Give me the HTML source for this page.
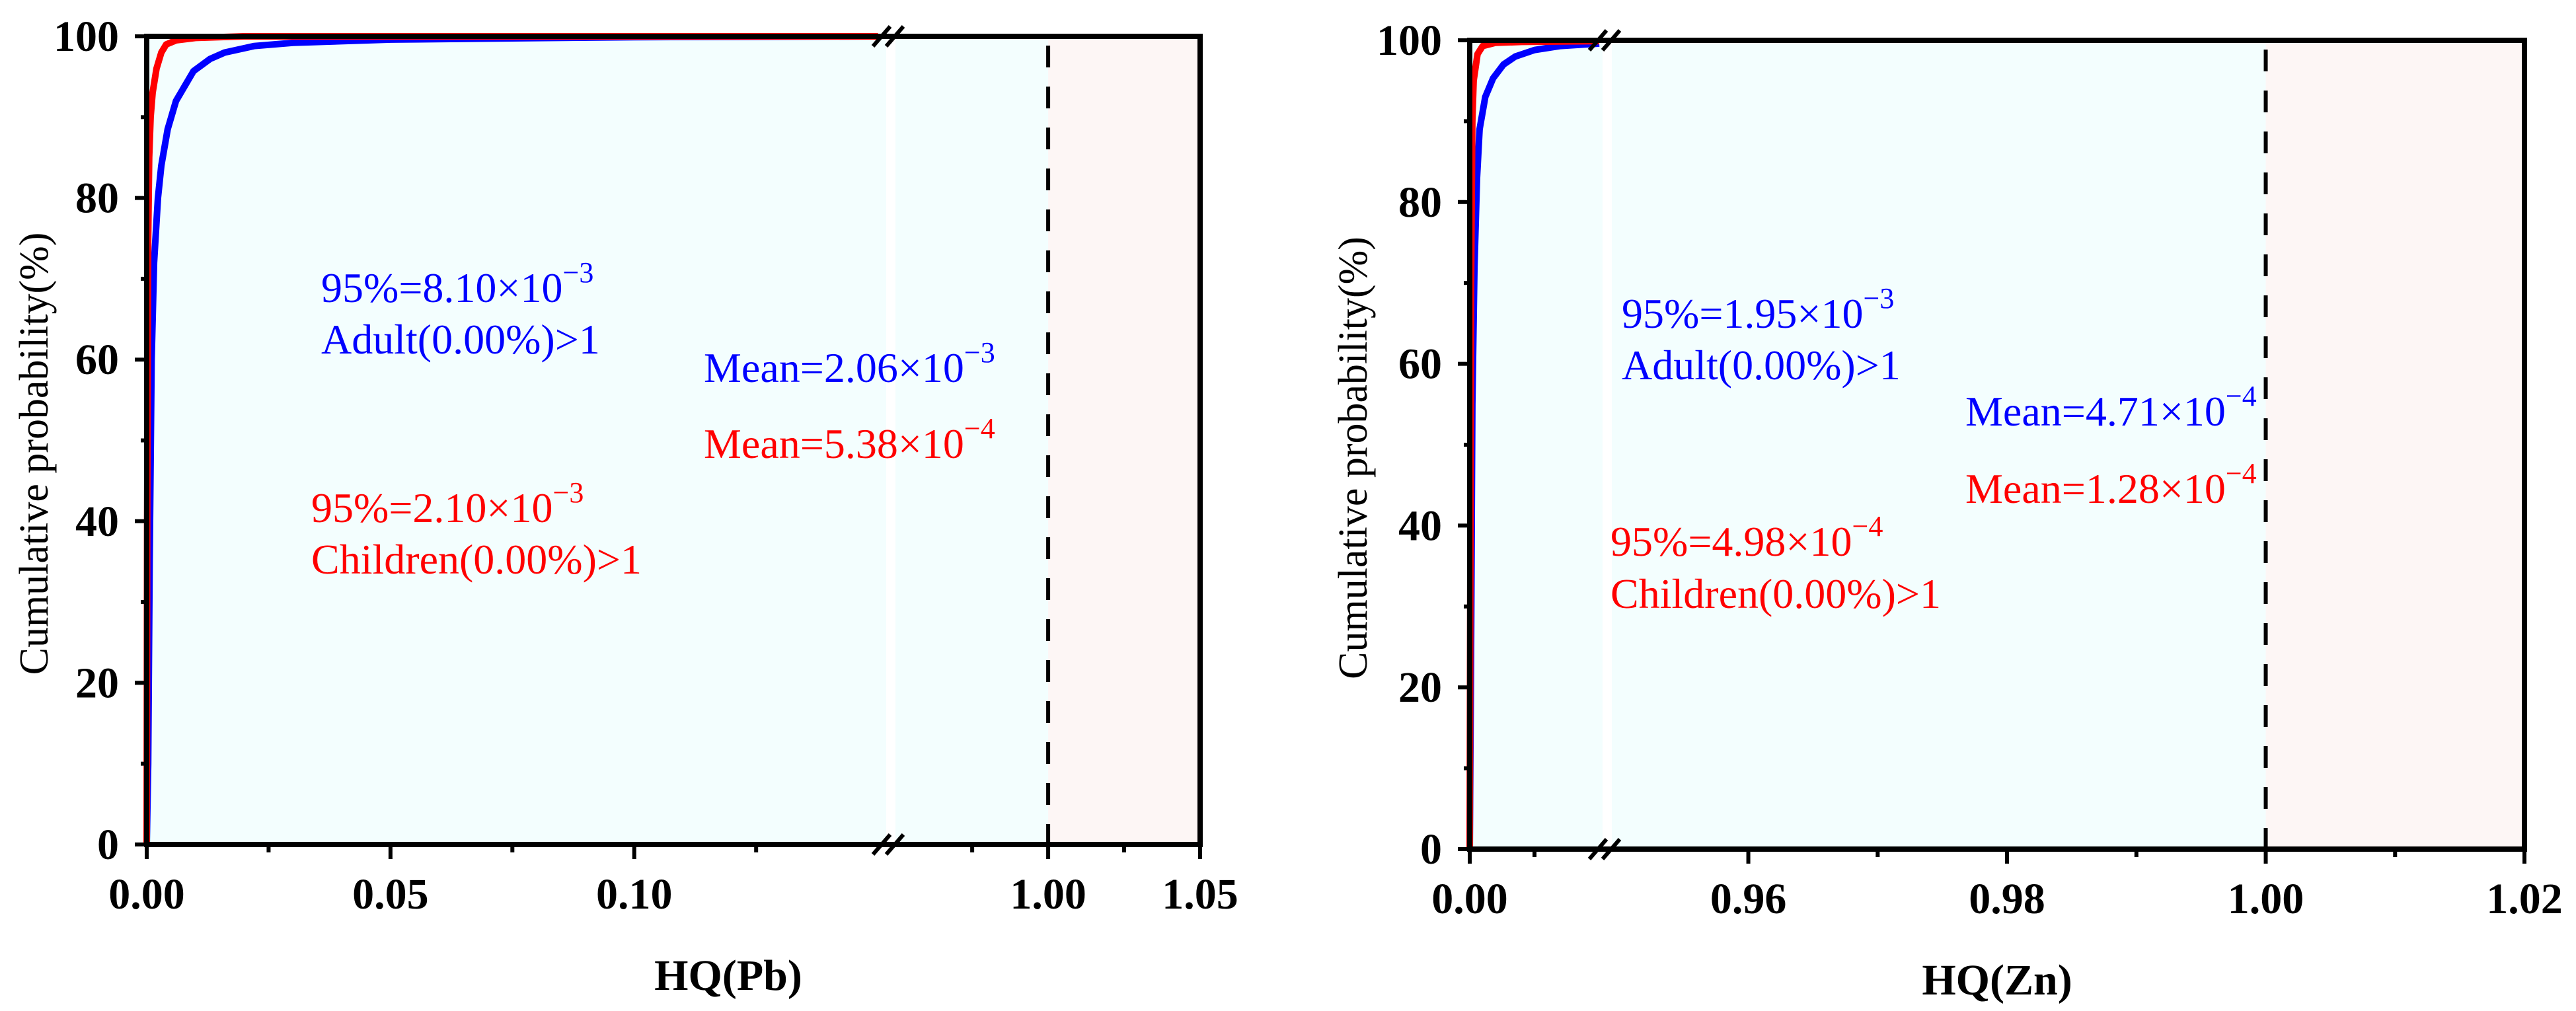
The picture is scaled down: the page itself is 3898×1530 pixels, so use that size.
<!DOCTYPE html>
<html><head><meta charset="utf-8"><style>
html,body{margin:0;padding:0;background:#fff;}
svg{display:block;}
text{font-family:"Liberation Serif","Times New Roman",serif;}
</style></head><body>
<svg id="fig" width="3898" height="1530" viewBox="0 0 3898 1530" xmlns="http://www.w3.org/2000/svg">
<g id="p1"></g>
<g id="p2"></g>
</svg>
<script>
// ---- data: Pb panel ----
const pbAdultHQ = [0,0.0003,0.0006,0.001,0.0015,0.0023,0.003,0.0043,0.006,0.0096,0.013,0.016,0.022,0.03,0.05,0.1,0.15];
const pbAdultCDF = [0,10,35,60,72,80,84,88.5,92,95.7,97.2,98,98.8,99.2,99.6,99.9,100];
const pbChildHQ = [0,0.0001,0.0003,0.0005,0.0008,0.0012,0.002,0.003,0.004,0.006,0.01,0.02,0.15];
const pbChildCDF = [0,40,75,85,90,93,96,98,99,99.5,99.8,100,100];
// ---- data: Zn panel ----
const znAdultHQ = [0,0.00005,0.0001,0.00018,0.00028,0.00038,0.0006,0.0009,0.0013,0.00176,0.0025,0.0035,0.005];
const znAdultCDF = [0,25,55,72,83,89,93,95.3,97,98,98.8,99.3,99.6];
const znChildHQ = [0,0.00002,0.00005,0.0001,0.00015,0.0003,0.0005,0.001,0.002,0.005];
const znChildCDF = [0,30,70,90,95,98.3,99.3,99.7,99.8,99.9];
const yTicks = [0,20,40,60,80,100];
const pbXTicks1 = ["0.00","0.05","0.10"];
const pbXTicks2 = ["1.00","1.05"];
const znXTicks1 = ["0.00"];
const znXTicks2 = ["0.96","0.98","1.00","1.02"];

const NS="http://www.w3.org/2000/svg";
function el(parent,tag,attrs,txt){const e=document.createElementNS(NS,tag);for(const k in attrs)e.setAttribute(k,attrs[k]);if(txt!==undefined)e.textContent=txt;parent.appendChild(e);return e;}

function panel(g,cfg){
  const L=cfg.left,R=cfg.right,T=cfg.top,B=cfg.bottom;
  const y=v=>B-(v/100)*(B-T);
  const x1=v=>L+(v-cfg.s1[0])/(cfg.s1[1]-cfg.s1[0])*(cfg.b1-L);
  const x2=v=>cfg.b2+(v-cfg.s2[0])/(cfg.s2[1]-cfg.s2[0])*(R-cfg.b2);
  const xv=v=>v<=cfg.s1[1]?x1(v):x2(v);
  let r;
  r=el(g,'rect',{x:L,y:T,width:x2(1)-L,height:B-T,fill:'#f3fefe'});
  
  
  r=el(g,'rect',{x:x2(1),y:T,width:R-x2(1),height:B-T,fill:'#fdf6f5'});
  
  
  r=el(g,'rect',{x:cfg.b1+5,y:T,width:cfg.b2-cfg.b1-8,height:B-T,fill:'#ffffff'});
  
  
  r=el(g,'line',{x1:x2(1),x2:x2(1),y1:T+14,y2:B,stroke:'#000','stroke-width':6,'stroke-dasharray':'33 29'});
  
  
  const series=[[cfg.aHQ,cfg.aCDF,'#0000ff','adult-cdf-curve'],[cfg.cHQ,cfg.cCDF,'#ff0000','children-cdf-curve']];
  for(const [hq,cdf,col,nm] of series){
    let d='';
    for(let i=0;i<hq.length;i++){const v=Math.min(hq[i],cfg.s1[1]);d+=(i?'L':'M')+x1(v).toFixed(1)+','+y(cdf[i]).toFixed(1);}
    const p=el(g,'path',{d:d,fill:'none',stroke:col,'stroke-width':10,'stroke-linejoin':'round'});
    
    
  }
  el(g,'line',{x1:L,x2:L,y1:T-4,y2:B+4,stroke:'#000','stroke-width':8});
  el(g,'line',{x1:R,x2:R,y1:T-4,y2:B+4,stroke:'#000','stroke-width':8});
  el(g,'line',{x1:L-4,x2:R+4,y1:T,y2:T,stroke:'#000','stroke-width':8});
  el(g,'line',{x1:L-4,x2:R+4,y1:B,y2:B,stroke:'#000','stroke-width':8});
  for(const yy of [T,B]){
    for(const xx of [cfg.b1-2,cfg.b2-4]){
      el(g,'line',{x1:xx-13,y1:yy+15,x2:xx+13,y2:yy-15,stroke:'#000','stroke-width':6});
    }
  }
  for(let v=0;v<=100;v+=10){
    const major=v%20===0;
    el(g,'line',{x1:L-(major?18:9),x2:L,y1:y(v),y2:y(v),stroke:'#000','stroke-width':6});
  }
  for(const v of yTicks){
    const t=el(g,'text',{x:L-42,y:y(v)+22,'text-anchor':'end','font-size':66,'font-weight':'bold'},String(v));
    
    
  }
  for(const [v,major] of cfg.xt){
    el(g,'line',{x1:xv(v),x2:xv(v),y1:B,y2:B+(major?22:12),stroke:'#000','stroke-width':6});
  }
  const labs=cfg.l1.map(s=>[s,x1(parseFloat(s))]).concat(cfg.l2.map(s=>[s,x2(parseFloat(s))]));
  for(const [s,xx] of labs){
    const t=el(g,'text',{x:xx,y:B+97,'text-anchor':'middle','font-size':66,'font-weight':'bold'},s);
    
    
  }
  let t=el(g,'text',{x:cfg.xtx,y:B+220,'text-anchor':'middle','font-size':66,'font-weight':'bold'},cfg.xtitle);
  
  
  t=el(g,'text',{x:0,y:0,'text-anchor':'middle','font-size':62,transform:'translate('+(cfg.ylx)+','+((T+B)/2+20)+') rotate(-90)'},'Cumulative probability(%)');
  
  
  for(const a of cfg.ann){
    const tx=el(g,'text',{x:a[0],y:a[1],fill:a[3],'font-size':64});
    
    
    const m=a[2].match(/^(.*×10)(−\d)$/);
    if(m){
      el(tx,'tspan',{},m[1]);
      el(tx,'tspan',{dy:-30,'font-size':44},m[2]);
    } else tx.textContent=a[2];
  }
}

panel(document.getElementById('p1'),{
  left:222,right:1816,top:55,bottom:1278,
  s1:[0,0.151],b1:1336,s2:[0.9504,1.05],b2:1358,
  aHQ:pbAdultHQ,aCDF:pbAdultCDF,cHQ:pbChildHQ,cCDF:pbChildCDF,
  xt:[[0,1],[0.025,0],[0.05,1],[0.075,0],[0.1,1],[0.125,0],[0.975,0],[1,1],[1.025,0],[1.05,1]],
  l1:pbXTicks1,l2:pbXTicks2,xtitle:'HQ(Pb)',xtx:1102,ylx:72,
  ann:[[486,457,'95%=8.10×10−3','#0000ff','adult-p95-label'],
       [486,535,'Adult(0.00%)>1','#0000ff','adult-exceed-label'],
       [1065,578,'Mean=2.06×10−3','#0000ff','adult-mean-label'],
       [1065,693,'Mean=5.38×10−4','#ff0000','children-mean-label'],
       [471,790,'95%=2.10×10−3','#ff0000','children-p95-label'],
       [471,868,'Children(0.00%)>1','#ff0000','children-exceed-label']]
});
panel(document.getElementById('p2'),{
  left:2224,right:3820,top:61,bottom:1285,
  s1:[0,0.005],b1:2420,s2:[0.9496,1.02],b2:2442,
  aHQ:znAdultHQ,aCDF:znAdultCDF,cHQ:znChildHQ,cCDF:znChildCDF,
  xt:[[0,1],[0.0025,0],[0.96,1],[0.97,0],[0.98,1],[0.99,0],[1,1],[1.01,0],[1.02,1]],
  l1:znXTicks1,l2:znXTicks2,xtitle:'HQ(Zn)',xtx:3022,ylx:2068,
  ann:[[2454,496,'95%=1.95×10−3','#0000ff','adult-p95-label'],
       [2454,574,'Adult(0.00%)>1','#0000ff','adult-exceed-label'],
       [2974,644,'Mean=4.71×10−4','#0000ff','adult-mean-label'],
       [2974,761,'Mean=1.28×10−4','#ff0000','children-mean-label'],
       [2437,841,'95%=4.98×10−4','#ff0000','children-p95-label'],
       [2437,920,'Children(0.00%)>1','#ff0000','children-exceed-label']]
});
</script>
</body></html>
